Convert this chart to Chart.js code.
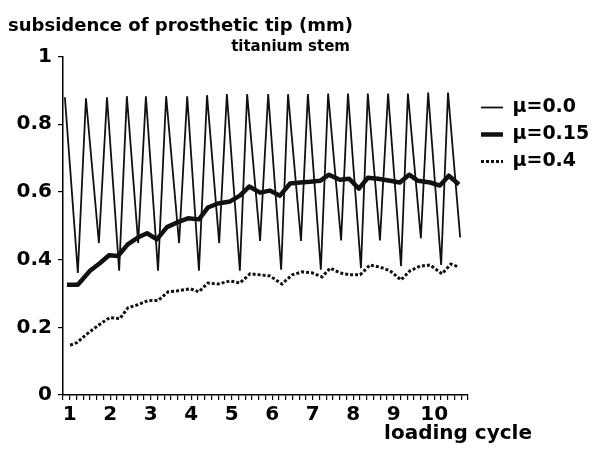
<!DOCTYPE html>
<html>
<head>
<meta charset="utf-8">
<script src="https://cdn.jsdelivr.net/npm/chart.js@4.4.1/dist/chart.umd.min.js"></script>
<style>
  body { margin: 0; background: #fff; }
  #wrap { width: 594px; height: 450px; }
</style>
</head>
<body>
<div id="wrap"><canvas id="subsidenceChart"></canvas></div>
<script>
// subsidence of prosthetic tip, titanium stem
var cycleLabels = [1, 2, 3, 4, 5, 6, 7, 8, 9, 10];
var yTickLabels = ['0', '0.2', '0.4', '0.6', '0.8', '1'];
var seriesNames = ['\u03bc=0.0', '\u03bc=0.15', '\u03bc=0.4'];

// mu = 0.0 (thin zigzag)
var cyclesMu00 = [0.88, 1.20, 1.40, 1.72, 1.92, 2.22, 2.41, 2.69, 2.88, 3.18,
  3.38, 3.70, 3.90, 4.19, 4.39, 4.69, 4.88, 5.20, 5.38, 5.70,
  5.90, 6.22, 6.39, 6.71, 6.88, 7.20, 7.38, 7.70, 7.87, 8.19,
  8.36, 8.66, 8.86, 9.18, 9.35, 9.67, 9.85, 10.17, 10.34, 10.64];
var valuesMu00 = [0.880, 0.361, 0.877, 0.449, 0.880, 0.367, 0.883, 0.449, 0.883, 0.367,
  0.883, 0.449, 0.883, 0.367, 0.886, 0.449, 0.889, 0.367, 0.889, 0.455,
  0.889, 0.370, 0.889, 0.455, 0.889, 0.370, 0.891, 0.457, 0.891, 0.375,
  0.891, 0.457, 0.891, 0.381, 0.891, 0.463, 0.894, 0.384, 0.894, 0.466];

// mu = 0.15 (thick)
var cyclesMu15 = [0.93, 1.20, 1.50, 1.75, 1.97, 2.19, 2.44, 2.69, 2.91, 3.15,
  3.40, 3.65, 3.92, 4.19, 4.41, 4.66, 4.96, 5.20, 5.43, 5.70,
  5.94, 6.19, 6.44, 6.69, 6.93, 7.18, 7.40, 7.67, 7.90, 8.14,
  8.36, 8.61, 8.91, 9.15, 9.38, 9.60, 9.90, 10.14, 10.36, 10.61];
var valuesMu15 = [0.326, 0.326, 0.367, 0.390, 0.413, 0.411, 0.446, 0.466, 0.478, 0.460,
  0.496, 0.510, 0.522, 0.519, 0.554, 0.566, 0.572, 0.589, 0.616, 0.598,
  0.604, 0.589, 0.625, 0.628, 0.630, 0.633, 0.651, 0.636, 0.639, 0.610,
  0.642, 0.639, 0.633, 0.628, 0.651, 0.633, 0.628, 0.619, 0.648, 0.622];

// mu = 0.4 (dotted)
var cyclesMu40 = [1.01, 1.18, 1.38, 1.57, 1.80, 1.99, 2.24, 2.44, 2.69, 2.93,
  3.18, 3.43, 3.67, 3.97, 4.19, 4.41, 4.66, 4.96, 5.20, 5.45,
  5.70, 5.94, 6.24, 6.49, 6.74, 6.98, 7.23, 7.43, 7.67, 7.92,
  8.17, 8.41, 8.66, 8.91, 9.18, 9.40, 9.65, 9.90, 10.19, 10.41, 10.61];
var valuesMu40 = [0.147, 0.155, 0.176, 0.194, 0.214, 0.229, 0.226, 0.258, 0.267, 0.279,
  0.279, 0.305, 0.308, 0.314, 0.305, 0.331, 0.328, 0.337, 0.331, 0.358,
  0.355, 0.352, 0.328, 0.355, 0.364, 0.361, 0.349, 0.375, 0.361, 0.355,
  0.355, 0.384, 0.378, 0.367, 0.340, 0.367, 0.381, 0.384, 0.358, 0.387, 0.378];

function toPoints(xs, ys) {
  return xs.map(function (x, i) { return { x: x, y: ys[i] }; });
}

// minor ticks every 1/6 cycle
var xMin = 5 / 6, xMax = 65 / 6;
var xTickValues = [];
for (var i = 5; i <= 65; i++) xTickValues.push(i / 6);

Chart.defaults.font.family = '"DejaVu Sans"';
Chart.defaults.font.weight = 'bold';
Chart.defaults.color = '#000';

var axisTitle = {
  id: 'axisTitle',
  afterDraw: function (chart) {
    var ctx = chart.ctx, area = chart.chartArea;
    ctx.save();
    ctx.font = 'bold 20px "DejaVu Sans"';
    ctx.fillStyle = '#000';
    ctx.textAlign = 'right';
    ctx.textBaseline = 'alphabetic';
    ctx.fillText('loading cycle', area.right + 64, area.bottom + 44);
    ctx.restore();
  }
};

var ctx = document.getElementById('subsidenceChart').getContext('2d');
var subsidenceChart = new Chart(ctx, {
  type: 'line',
  data: {
    datasets: [{
      label: seriesNames[0],
      data: toPoints(cyclesMu00, valuesMu00),
      borderColor: '#111',
      borderWidth: 1.8,
      pointRadius: 0
    }, {
      label: seriesNames[1],
      data: toPoints(cyclesMu15, valuesMu15),
      borderColor: '#111',
      borderWidth: 4.5,
      borderJoinStyle: 'round',
      pointRadius: 0
    }, {
      label: seriesNames[2],
      data: toPoints(cyclesMu40, valuesMu40),
      borderColor: '#111',
      borderWidth: 3,
      borderDash: [3, 2],
      pointRadius: 0
    }]
  },
  options: {
    responsive: true,
    maintainAspectRatio: false,
    animation: false,
    layout: {
      padding: { top: 0, left: 8, right: 0, bottom: 20 }
    },
    plugins: {
      title: {
        display: true,
        text: 'subsidence of prosthetic tip (mm)',
        align: 'start',
        color: '#000',
        font: { size: 18, weight: 'bold' },
        padding: { top: 16, bottom: 0 }
      },
      subtitle: {
        display: true,
        text: 'titanium stem\u00a0\u00a0\u00a0\u00a0',
        align: 'center',
        color: '#000',
        font: { size: 15, weight: 'bold' },
        padding: { top: 1, bottom: 0 }
      },
      legend: {
        position: 'right',
        align: 'start',
        maxWidth: 121,
        title: {
          display: true,
          text: ' ',
          font: { size: 10 },
          padding: { top: 78, bottom: 0 }
        },
        labels: {
          usePointStyle: true,
          pointStyle: 'line',
          pointStyleWidth: 22,
          padding: 8,
          color: '#000',
          font: { size: 19, weight: 'bold' },
          generateLabels: function (chart) {
            var items = Chart.defaults.plugins.legend.labels.generateLabels(chart);
            items.forEach(function (item) {
              var ds = chart.data.datasets[item.datasetIndex];
              item.lineWidth = ds.borderWidth;
              item.lineDash = ds.borderDash || [];
              item.strokeStyle = ds.borderColor;
            });
            return items;
          }
        }
      },
      tooltip: {
        enabled: false
      }
    },
    scales: {
      x: {
        type: 'linear',
        min: xMin,
        max: xMax,
        afterBuildTicks: function (scale) {
          scale.ticks = xTickValues.map(function (v) { return { value: v }; });
        },
        ticks: {
          autoSkip: false,
          maxRotation: 0,
          padding: 3,
          color: '#000',
          font: { size: 20, weight: 'bold' },
          callback: function (value) {
            var n = Math.round(value);
            return (Math.abs(value - n) < 1e-6 && cycleLabels.indexOf(n) >= 0) ? String(n) : '';
          }
        },
        grid: {
          display: true,
          drawOnChartArea: false,
          drawTicks: true,
          tickLength: 5,
          color: '#000',
          lineWidth: 1.2
        },
        border: {
          display: true,
          color: '#000',
          width: 1.5
        }
      },
      y: {
        min: 0,
        max: 1,
        afterFit: function (scale) {
          scale.width = 55;
        },
        ticks: {
          stepSize: 0.2,
          padding: 6,
          color: '#000',
          font: { size: 20, weight: 'bold' },
          callback: function (value, index) {
            return yTickLabels[index];
          }
        },
        grid: {
          display: true,
          drawOnChartArea: false,
          drawTicks: true,
          tickLength: 5,
          color: '#000',
          lineWidth: 1.2
        },
        border: {
          display: true,
          color: '#000',
          width: 1.5
        }
      },
      gap: {
        type: 'linear',
        position: 'right',
        display: true,
        grid: { display: false },
        border: { display: false },
        ticks: { display: false },
        afterFit: function (scale) {
          scale.width = 5;
        }
      }
    }
  },
  plugins: [axisTitle]
});
</script>
</body>
</html>
